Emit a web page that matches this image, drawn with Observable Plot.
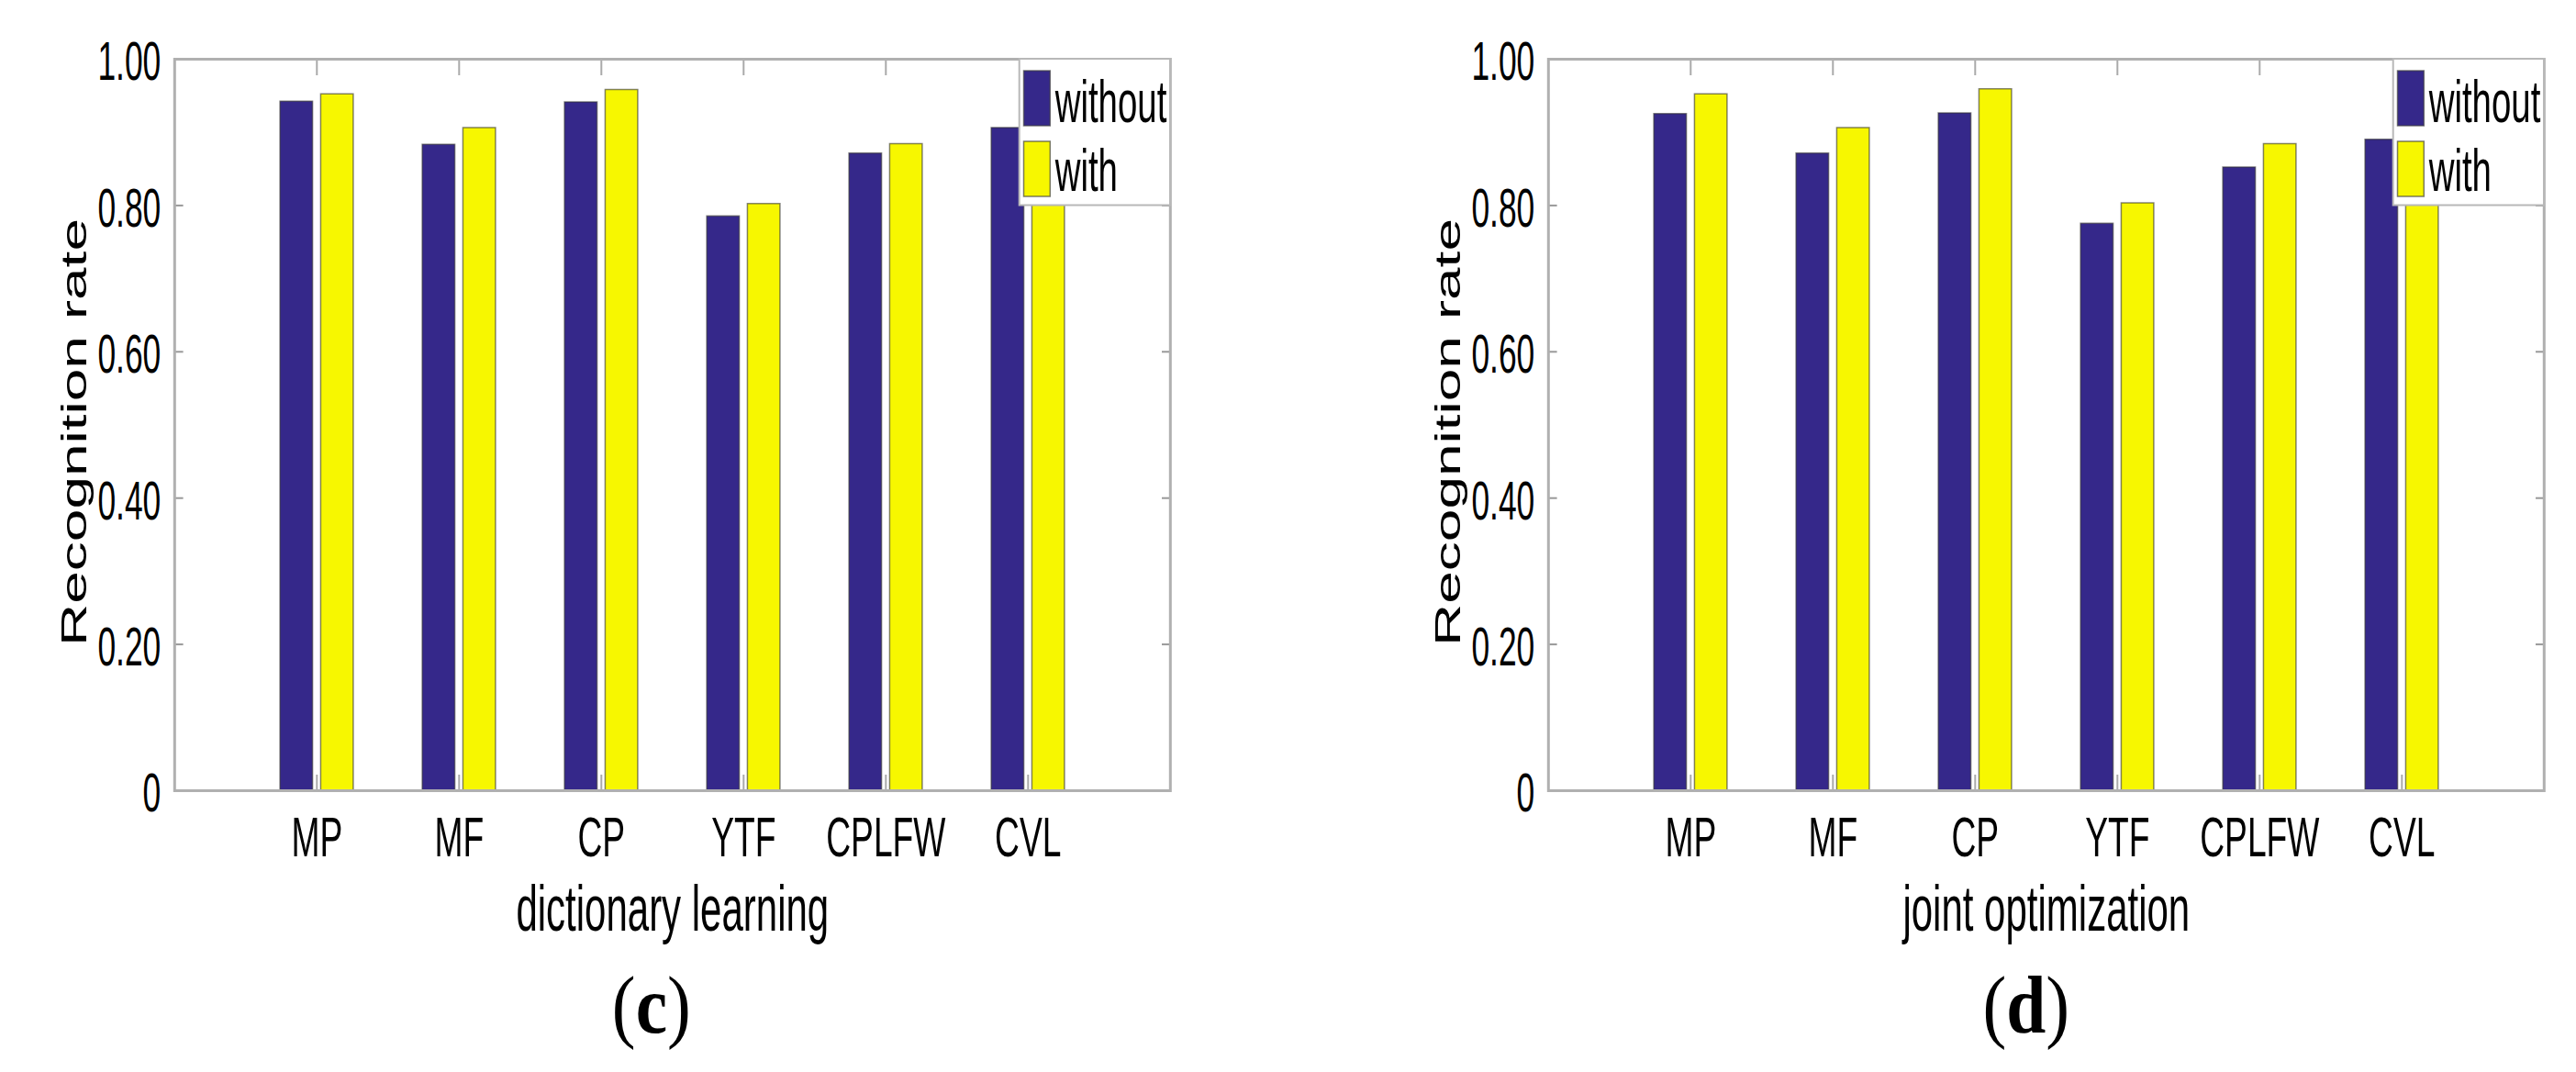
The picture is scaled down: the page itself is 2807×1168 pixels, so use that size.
<!DOCTYPE html>
<html>
<head>
<meta charset="utf-8">
<script src="https://cdn.jsdelivr.net/npm/d3@7"></script>
<script src="https://cdn.jsdelivr.net/npm/@observablehq/plot@0.6"></script>
<style>
  html, body { margin: 0; padding: 0; background: #fff; }
  body { width: 2807px; height: 1168px; position: relative; overflow: hidden; font-family: "Liberation Sans", Arial, sans-serif; }
  .panel { position: absolute; top: 0; }
  .panel svg rect, .panel svg line, .panel svg path { vector-effect: non-scaling-stroke; }
  .cap { position: absolute; width: 300px; text-align: center; font-family: "Liberation Serif", "Times New Roman", serif; font-size: 88px; line-height: 1; color: #000; }
  .cap span { display: inline-block; transform: scaleX(0.88); }
</style>
</head>
<body>
<div id="left" class="panel" style="left:0px"></div>
<div id="right" class="panel" style="left:1497px"></div>
<div class="cap" style="left:560px; top:1052px;"><span>(<b>c</b>)</span></div>
<div class="cap" style="left:2058px; top:1052px;"><span>(<b>d</b>)</span></div>
<script>
// ---------- data ----------
const categories = ["MP", "MF", "CP", "YTF", "CPLFW", "CVL"];
const seriesNames = ["without", "with"];
const dictWithout  = [0.942, 0.883, 0.941, 0.785, 0.871, 0.906];
const dictWith     = [0.952, 0.906, 0.958, 0.802, 0.884, 0.920];
const jointWithout = [0.925, 0.871, 0.926, 0.775, 0.852, 0.890];
const jointWith    = [0.952, 0.906, 0.959, 0.803, 0.884, 0.920];
const yTicks = [0, 0.2, 0.4, 0.6, 0.8, 1.0];
const colors = ["#35288a", "#f7f700"];

// ---------- layout ----------
const SX = 0.6;                 // horizontal compression of the original figure
const W = 1310, H = 1040;       // on-screen size of each panel
const mL = 190, mR = 35, mT = 64, mB = H - 861;
const barW = 0.229, barOff = 0.143;
const legendX0 = 5.94, legendY0 = 0.80;

function chart(el, without, withv, xlabel) {
  const rows = [];
  categories.forEach((c, i) => {
    rows.push({cat: c, series: "without", i: i + 1, value: without[i]});
    rows.push({cat: c, series: "with", i: i + 1, value: withv[i]});
  });
  const catIdx = categories.map((_, i) => i + 1);
  const fmt = d => d === 0 ? "0" : d.toFixed(2);
  const off = s => s === "without" ? -barOff : barOff;

  const plot = Plot.plot({
    width: W / SX, height: H,
    marginLeft: mL / SX, marginRight: mR / SX, marginTop: mT, marginBottom: mB,
    style: {fontFamily: "'Liberation Sans', Arial, sans-serif", background: "#fff", color: "#000", overflow: "visible"},
    x: {domain: [0, categories.length + 1]},
    y: {domain: [0, 1]},
    color: {domain: seriesNames, range: colors},
    marks: [
      Plot.rectY(rows, {
        x1: d => d.i + off(d.series) - barW / 2,
        x2: d => d.i + off(d.series) + barW / 2,
        y1: 0, y2: "value",
        fill: "series", stroke: "#333", strokeOpacity: 0.6, strokeWidth: 1.5
      }),
      Plot.axisX({anchor: "bottom", ticks: catIdx, tickSize: -17, tickFormat: () => "", stroke: "#aaa", strokeWidth: 2, label: null}),
      Plot.axisX({anchor: "top", ticks: catIdx, tickSize: -17, tickFormat: () => "", stroke: "#aaa", strokeWidth: 2, label: null}),
      Plot.axisX({anchor: "bottom", ticks: catIdx, tickSize: 0, tickPadding: 27, tickFormat: i => categories[i - 1], fontSize: 62, label: null}),
      Plot.axisY({anchor: "left", ticks: yTicks, tickSize: -16, tickFormat: () => "", stroke: "#999", strokeWidth: 2, label: null}),
      Plot.axisY({anchor: "right", ticks: yTicks, tickSize: -16, tickFormat: () => "", stroke: "#999", strokeWidth: 2, label: null}),
      Plot.axisY({anchor: "left", ticks: yTicks, tickSize: 0, tickPadding: 25, tickFormat: fmt, fontSize: 59, dy: 4, label: null}),
      Plot.frame({stroke: "#b0b0b0", strokeWidth: 3}),
      Plot.text([xlabel], {text: d => d, frameAnchor: "bottom", lineAnchor: "bottom", textAnchor: "middle", dy: 152, fontSize: 70, fill: "#000"}),
      Plot.text(["Recognition rate"], {text: d => d, frameAnchor: "left", rotate: -90, lineAnchor: "bottom", textAnchor: "middle", dx: -160, dy: 8, fontSize: 64, fill: "#000"})
    ]
  });

  // legend (inside the axes, top-right corner)
  const xs = plot.scale("x"), ys = plot.scale("y");
  const lx0 = xs.apply(legendX0), lx1 = xs.apply(categories.length + 1);
  const ly0 = ys.apply(1), ly1 = ys.apply(legendY0);
  const g = d3.select(plot).append("g").attr("text-anchor", "start");
  g.append("rect").attr("x", lx0).attr("y", ly0).attr("width", lx1 - lx0).attr("height", ly1 - ly0)
    .attr("fill", "#fff").attr("stroke", "#b8b8b8").attr("stroke-width", 2);
  seriesNames.forEach((s, k) => {
    g.append("rect").attr("x", lx0 + 8).attr("y", ly0 + 13 + k * 77).attr("width", 48).attr("height", 60)
      .attr("fill", colors[k]).attr("stroke", "#444").attr("stroke-opacity", 0.7).attr("stroke-width", 1.5);
    g.append("text").attr("x", lx0 + 65).attr("y", ly0 + 69 + k * 75).attr("font-size", 64)
      .attr("text-anchor", "start")
      .attr("fill", "#000").attr("font-family", "'Liberation Sans', Arial, sans-serif").text(s);
  });

  // the original figure is horizontally compressed
  plot.setAttribute("width", W);
  plot.setAttribute("height", H);
  plot.setAttribute("preserveAspectRatio", "none");
  plot.style.width = W + "px";
  plot.style.height = H + "px";
  plot.style.maxWidth = "none";
  document.getElementById(el).appendChild(plot);
}

chart("left", dictWithout, dictWith, "dictionary learning");
chart("right", jointWithout, jointWith, "joint optimization");
</script>
</body>
</html>
